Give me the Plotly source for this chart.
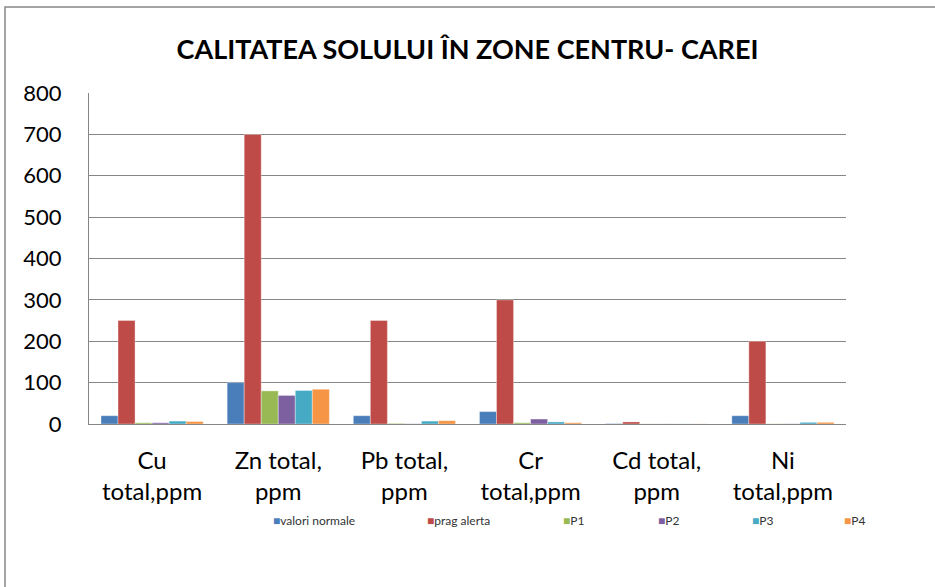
import plotly.graph_objects as go

categories = ["Cu<br>total,ppm", "Zn total,<br>ppm", "Pb total,<br>ppm",
              "Cr<br>total,ppm", "Cd total,<br>ppm", "Ni<br>total,ppm"]
series_names = ["valori normale", "prag alerta", "P1", "P2", "P3", "P4"]
valori_normale = [20, 100, 20, 30, 1, 20]
prag_alerta = [250, 700, 250, 300, 5, 200]
p1 = [3, 80, 1.5, 3, 0.3, 0.5]
p2 = [3, 69, 0.5, 12, 0.3, 0.5]
p3 = [7, 81, 7, 5, 0.3, 4]
p4 = [6, 84, 8, 3, 0.3, 4]
y_ticks = [0, 100, 200, 300, 400, 500, 600, 700, 800]

colors = ["#4A7EBB", "#BE4B48", "#98B954", "#7D60A0", "#46AAC5", "#F69546"]
series_values = [valori_normale, prag_alerta, p1, p2, p3, p4]

FONT = "Lato, 'Open Sans', sans-serif"

fig = go.Figure()
for name, vals, col in zip(series_names, series_values, colors):
    fig.add_trace(go.Bar(
        x=categories, y=vals, name=name,
        marker=dict(color=col, line=dict(color="rgba(255,255,255,0.35)", width=1)),
        showlegend=False,
    ))

W, H = 935, 587
L, T = 89, 93
R = W - 846
B = H - 424
pw, ph = W - L - R, H - T - B

def px_x(px):
    return (px - L) / pw

def px_y(py):
    return (H - B - py) / ph

# legend rendered as annotations (marker glyph + label)
legend_text_x = [271, 425, 561, 656, 750, 842]
annotations = []
for name, col, lx in zip(series_names, colors, legend_text_x):
    annotations.append(dict(
        x=px_x(lx), y=px_y(520), xref="paper", yref="paper",
        xanchor="left", yanchor="middle", showarrow=False,
        text=f'<span style="color:{col}">■</span>{name}',
        font=dict(family=FONT, size=12, color="#333333"),
    ))

fig.update_layout(
    width=W, height=H,
    margin=dict(l=L, r=R, t=T, b=B),
    paper_bgcolor="white", plot_bgcolor="white",
    barmode="group", bargap=0.19, bargroupgap=0,
    title=dict(text="<b>CALITATEA SOLULUI ÎN ZONE CENTRU- CAREI</b>",
               x=0.5, xanchor="center", y=1 - 50 / H, yanchor="middle",
               font=dict(family=FONT, size=27, color="black")),
    font=dict(family=FONT, color="black"),
    xaxis=dict(showgrid=False, showline=True, linecolor="#868686", linewidth=1,
               ticks="", tickfont=dict(size=24, family=FONT, color="black"),
               ticklabelstandoff=15),
    yaxis=dict(range=[0, 800], tickvals=y_ticks, showgrid=True, gridcolor="#868686",
               gridwidth=1, showline=True, linecolor="#868686", linewidth=1,
               ticks="", zeroline=False,
               tickfont=dict(size=22, family=FONT, color="black"),
               ticklabelstandoff=22),
    annotations=annotations,
    shapes=[dict(type="rect", xref="paper", yref="paper",
                 x0=px_x(5), x1=px_x(960), y0=px_y(620), y1=px_y(7),
                 line=dict(color="#888888", width=1.5), fillcolor="rgba(0,0,0,0)",
                 layer="below")],
)

fig.write_html("out.html",
               config={"displayModeBar": False},
               post_script="document.body.style.margin='0px';document.body.style.padding='0px';")
